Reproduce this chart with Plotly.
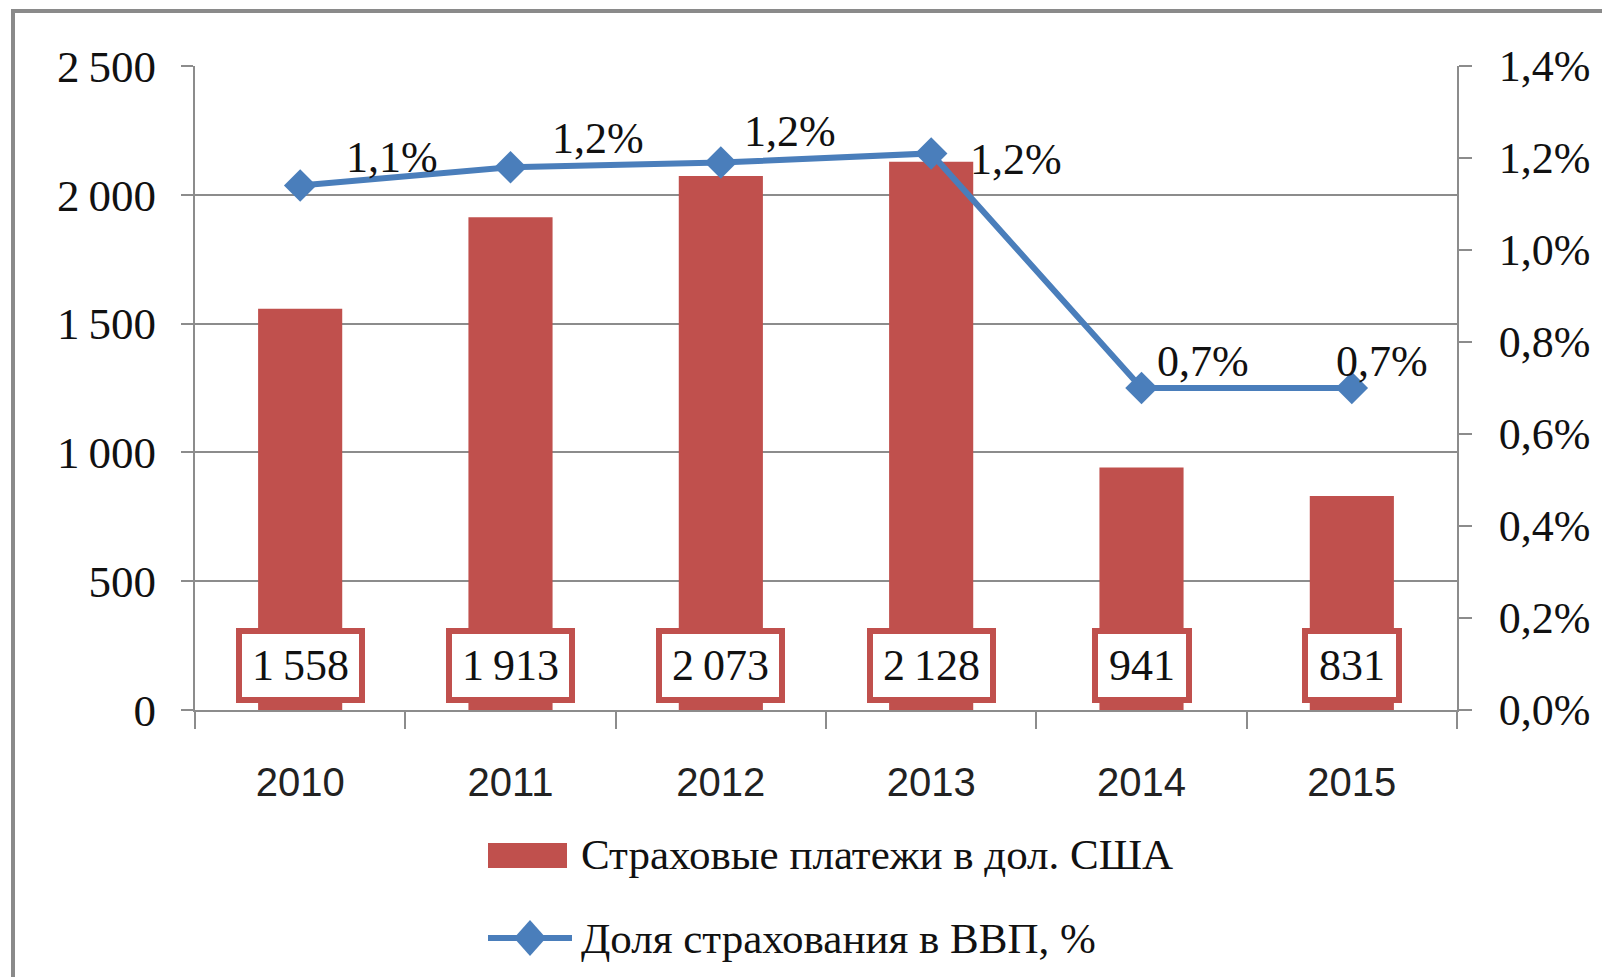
import plotly.graph_objects as go

# ---- data ----
years = ["2010", "2011", "2012", "2013", "2014", "2015"]
payments = [1558, 1913, 2073, 2128, 941, 831]          # Страховые платежи в дол. США
share_gdp = [1.14, 1.18, 1.19, 1.21, 0.70, 0.70]       # Доля страхования в ВВП, %
left_ticks = [0, 500, 1000, 1500, 2000, 2500]
right_ticks = [0.0, 0.2, 0.4, 0.6, 0.8, 1.0, 1.2, 1.4]
bar_name = "Страховые платежи в дол. США"
line_name = "Доля страхования в ВВП, %"

# ---- layout geometry (pixels) ----
FW, FH = 1602, 977
L, R, T, B = 195, 1457, 66, 710
def px(x):
    return (x - L) / (R - L)
def py(y):
    return (B - y) / (B - T)

RED = "#C0504D"
BLUE = "#4A7EBB"
GRID = "#8C8C8C"
SERIF = "Liberation Serif, Times New Roman, serif"
SANS = "Liberation Sans, Arial, sans-serif"
THIN = "\u2009"

def fmt_int(v):
    s = f"{v:,}"
    return s.replace(",", THIN)

def fmt_pct(v):
    return f"{v:.1f}".replace(".", ",") + "%"

fig = go.Figure()
fig.add_trace(go.Bar(x=years, y=payments, name=bar_name, marker=dict(color=RED, line=dict(width=0)),
                     yaxis="y"))
fig.add_trace(go.Scatter(x=years, y=share_gdp, name=line_name, yaxis="y2", mode="lines+markers",
                         line=dict(color=BLUE, width=6),
                         marker=dict(symbol="diamond", size=25, color=BLUE)))

annotations = []
# value boxes at the base of bars (x given as category index)
for i, v in enumerate(payments):
    txt = fmt_int(v)
    ndig = sum(c.isdigit() for c in txt)
    w = ndig * 22 + (7 if THIN in txt else 0) + 8
    annotations.append(dict(x=i, y=0, xref="x", yref="y", text=txt, showarrow=False,
                            xanchor="center", yanchor="bottom", yshift=7,
                            width=w, height=49,
                            font=dict(family=SERIF, size=44, color="#111111"),
                            bgcolor="white", bordercolor=RED, borderwidth=6, borderpad=7))
# line labels (offsets in px from each marker)
offsets = [(92, 28), (87, 29), (69, 31), (85, -6), (61, 27), (30, 27)]
for i, (v, (dx, dy)) in enumerate(zip(share_gdp, offsets)):
    annotations.append(dict(x=i, y=v, xref="x", yref="y2", text=fmt_pct(v), showarrow=False,
                            xanchor="center", yanchor="middle", xshift=dx, yshift=dy,
                            font=dict(family=SERIF, size=44, color="#111111")))
# custom legend texts
annotations.append(dict(x=px(579), y=py(854), xref="paper", yref="paper", text=bar_name,
                        showarrow=False, xanchor="left", yanchor="middle",
                        font=dict(family=SERIF, size=43, color="#111111")))
annotations.append(dict(x=px(579), y=py(938), xref="paper", yref="paper", text=line_name,
                        showarrow=False, xanchor="left", yanchor="middle",
                        font=dict(family=SERIF, size=43, color="#111111")))

shapes = [
    # outer chart border
    dict(type="rect", xref="paper", yref="paper", x0=px(13), x1=px(1620), y0=py(11), y1=py(1000),
         line=dict(color="#8A8A8A", width=4), fillcolor="rgba(0,0,0,0)", layer="below"),
    # legend swatches
    dict(type="rect", xref="paper", yref="paper", x0=px(488), x1=px(567), y0=py(868), y1=py(843),
         line=dict(width=0), fillcolor=RED),
    dict(type="line", xref="paper", yref="paper", x0=px(488), x1=px(572), y0=py(938), y1=py(938),
         line=dict(color=BLUE, width=6)),
    dict(type="path", xref="paper", yref="paper",
         path=f"M {px(514)},{py(938)} L {px(530)},{py(920)} L {px(546)},{py(938)} L {px(530)},{py(956)} Z",
         line=dict(width=0), fillcolor=BLUE),
]

fig.update_layout(
    width=FW, height=FH,
    margin=dict(l=L, r=FW - R, t=T, b=FH - B, pad=0),
    paper_bgcolor="white", plot_bgcolor="white",
    showlegend=False,
    bargap=0.6,
    font=dict(family=SERIF, color="#111111"),
    xaxis=dict(type="category", range=[-0.5, len(years) - 0.5], autorange=False,
               showline=True, linecolor=GRID, linewidth=2,
               ticks="outside", tickson="boundaries", ticklen=17, tickwidth=2, tickcolor=GRID,
               tickfont=dict(family=SANS, size=40, color="#222222"), ticklabelstandoff=36,
               tickangle=0, showgrid=False, zeroline=False),
    yaxis=dict(range=[0, 2500], tickvals=left_ticks, ticktext=[fmt_int(v) for v in left_ticks],
               showline=True, linecolor=GRID, linewidth=2,
               ticks="outside", ticklen=12, tickwidth=2, tickcolor=GRID,
               showgrid=True, gridcolor=GRID, gridwidth=2, zeroline=False,
               tickfont=dict(family=SERIF, size=45, color="#111111"), ticklabelstandoff=16),
    yaxis2=dict(range=[0, 1.4], tickvals=right_ticks, ticktext=[fmt_pct(v) for v in right_ticks],
                overlaying="y", side="right", showline=True, linecolor=GRID, linewidth=2,
                ticks="outside", ticklen=13, tickwidth=2, tickcolor=GRID,
                showgrid=False, zeroline=False,
                tickfont=dict(family=SERIF, size=44, color="#111111"), ticklabelstandoff=18),
    annotations=annotations,
    shapes=shapes,
)

fig.write_html("out.html", config={"displayModeBar": False},
               post_script="document.body.style.margin='0';document.body.style.overflow='hidden';")
